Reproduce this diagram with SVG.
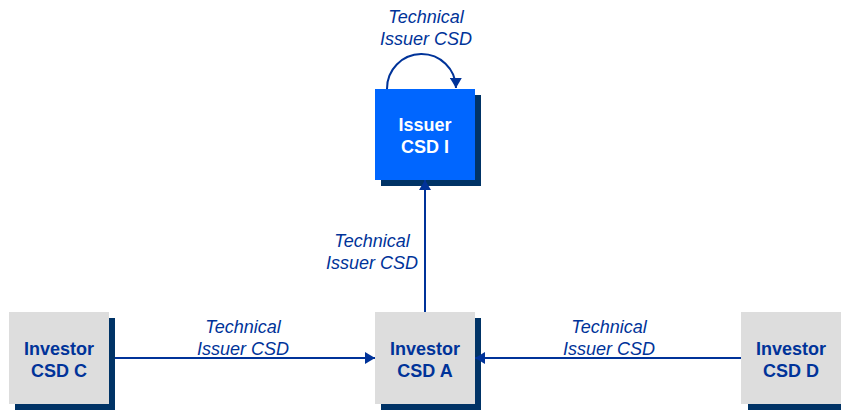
<svg xmlns="http://www.w3.org/2000/svg" width="841" height="410" viewBox="0 0 841 410">
<defs>
<style>
.shadow{fill:#003366}
.inv{fill:#dddddd}
.iss{fill:#0066ff}
.nt{font-family:"Liberation Sans",Arial,sans-serif;font-weight:bold;font-size:18px;fill:#003399;text-anchor:middle}
.nw{fill:#ffffff}
.lbl{font-family:"Liberation Sans",Arial,sans-serif;font-style:italic;font-size:18px;fill:#003399;text-anchor:middle}
.ln{stroke:#003399;stroke-width:2;fill:none}
</style>
<marker id="ah" viewBox="0 0 10 12" refX="10" refY="6" markerWidth="5" markerHeight="6" markerUnits="strokeWidth" orient="auto">
<path d="M0,0 L10,6 L0,12 z" fill="#003399"/>
</marker>
</defs>
<g id="issuer-csd-i">
<rect class="shadow" x="381" y="95" width="100" height="91"/>
<rect class="iss" x="375" y="89" width="100" height="91"/>
<text class="nt nw"><tspan x="425" y="131">Issuer</tspan><tspan x="425" y="153">CSD I</tspan></text>
</g>
<g id="investor-csd-c">
<rect class="shadow" x="15" y="318" width="100" height="92"/>
<rect class="inv" x="9" y="312" width="100" height="92"/>
<text class="nt"><tspan x="59" y="355">Investor</tspan><tspan x="59" y="377">CSD C</tspan></text>
</g>
<g id="investor-csd-a">
<rect class="shadow" x="381" y="318" width="100" height="92"/>
<rect class="inv" x="375" y="312" width="100" height="92"/>
<text class="nt"><tspan x="425" y="355">Investor</tspan><tspan x="425" y="377">CSD A</tspan></text>
</g>
<g id="investor-csd-d">
<rect class="shadow" x="748" y="318" width="100" height="92"/>
<rect class="inv" x="741" y="312" width="100" height="92"/>
<text class="nt"><tspan x="791" y="355">Investor</tspan><tspan x="791" y="377">CSD D</tspan></text>
</g>
<g id="connectors">
<line class="ln" x1="115" y1="358" x2="375" y2="358" marker-end="url(#ah)"/>
<line class="ln" x1="741" y1="358" x2="475" y2="358" marker-end="url(#ah)"/>
<line class="ln" x1="425" y1="312" x2="425" y2="180" marker-end="url(#ah)"/>
<path class="ln" d="M387,89 A34.5,34.5 0 0 1 456,88" marker-end="url(#ah)"/>
<text class="lbl"><tspan x="426" y="23">Technical</tspan><tspan x="426" y="45">Issuer CSD</tspan></text>
<text class="lbl"><tspan x="372" y="247">Technical</tspan><tspan x="372" y="269">Issuer CSD</tspan></text>
<text class="lbl"><tspan x="243" y="333">Technical</tspan><tspan x="243" y="355">Issuer CSD</tspan></text>
<text class="lbl"><tspan x="609" y="333">Technical</tspan><tspan x="609" y="355">Issuer CSD</tspan></text>
</g>
</svg>
